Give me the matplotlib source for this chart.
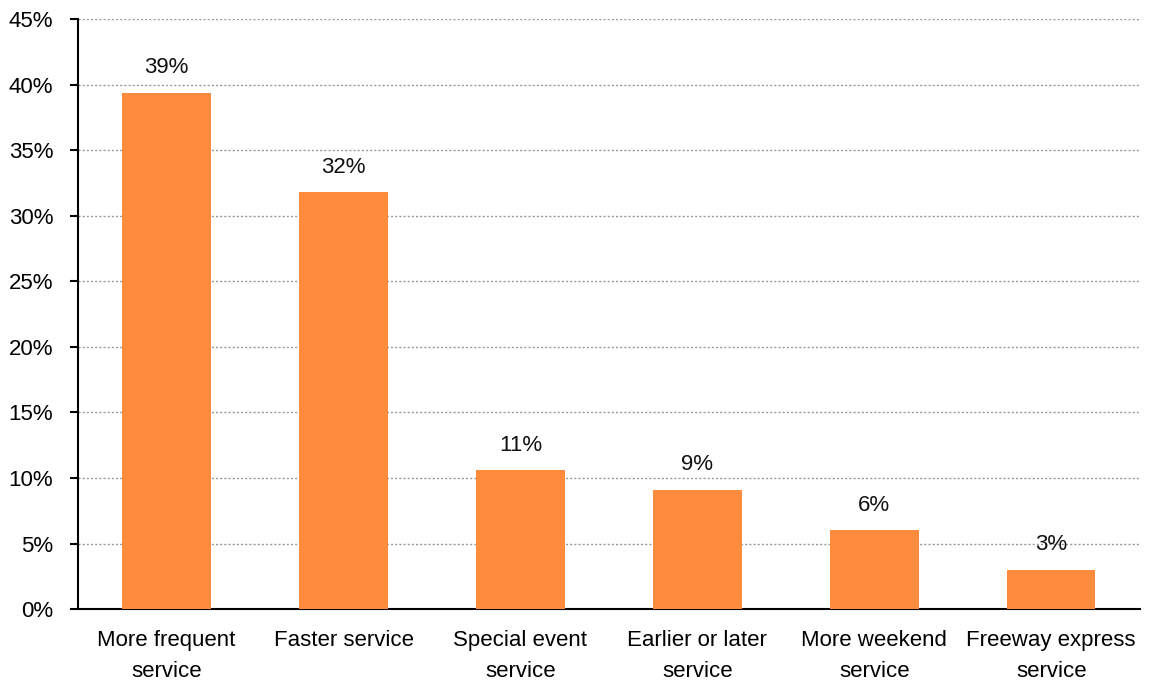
import matplotlib
matplotlib.use("Agg")
from matplotlib import pyplot as plt
from matplotlib.ticker import FuncFormatter

categories = ["More frequent\nservice", "Faster service", "Special event\nservice",
              "Earlier or later\nservice", "More weekend\nservice", "Freeway express\nservice"]
values = [39.4, 31.8, 10.6, 9.1, 6.0, 3.0]
labels = ["39%", "32%", "11%", "9%", "6%", "3%"]

plt.rcParams['font.family'] = ['Liberation Sans Narrow', 'Liberation Sans', 'DejaVu Sans']

fig = plt.figure(figsize=(11.5, 6.89), dpi=100)
ax = fig.add_axes([0.068, 0.116, 0.923, 0.856])

x = list(range(len(categories)))
bars = ax.bar(x, values, width=0.5, color='#FF8B3D', zorder=3)
for b, lab in zip(bars, labels):
    ax.text(b.get_x() + b.get_width() / 2, b.get_height() + 1.1, lab,
            ha='center', va='bottom', fontsize=16, color='#111111', zorder=4)

ax.set_xlim(-0.5, len(categories) - 0.5)
ax.set_ylim(0, 45)
ax.set_yticks(range(0, 46, 5))
ax.yaxis.set_major_formatter(FuncFormatter(lambda v, p: f"{int(v)}%"))
ax.set_xticks(x)
ax.set_xticklabels(categories, fontsize=16, linespacing=1.65)
ax.tick_params(axis='x', length=0, pad=15)
ax.tick_params(axis='y', length=6, width=1.5, labelsize=16, direction='out', pad=12)
ax.yaxis.grid(True, linestyle=(0, (1.5, 1.5)), color='#999999', linewidth=1, zorder=0)

for side in ['top', 'right']:
    ax.spines[side].set_visible(False)
ax.spines['left'].set_linewidth(1.5)
ax.spines['bottom'].set_linewidth(1.5)

fig.savefig("out.png", dpi=100)
